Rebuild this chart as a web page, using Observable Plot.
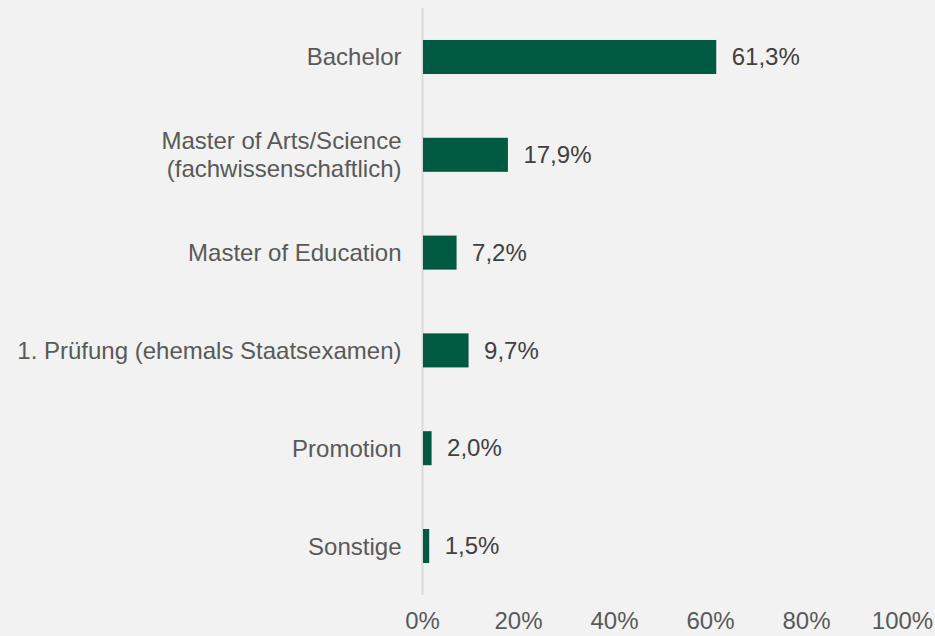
<!DOCTYPE html>
<html>
<head>
<meta charset="utf-8">
<script src="https://cdn.jsdelivr.net/npm/d3@7"></script>
<script src="https://cdn.jsdelivr.net/npm/@observablehq/plot@0.6"></script>
<style>
  html, body { margin: 0; padding: 0; background: #f2f2f2; }
</style>
</head>
<body>
<div id="chart"></div>
<script>
const categories = [
  "Bachelor",
  "Master of Arts/Science\n(fachwissenschaftlich)",
  "Master of Education",
  "1. Prüfung (ehemals Staatsexamen)",
  "Promotion",
  "Sonstige"
];
const values = [61.3, 17.9, 7.2, 9.7, 2.0, 1.5];
const xTicks = [0, 20, 40, 60, 80, 100];

const data = categories.map((c, i) => ({category: c, value: values[i]}));
const fmt = v => v.toFixed(1).replace(".", ",") + "%";

const chart = Plot.plot({
  width: 935,
  height: 636,
  marginLeft: 422,
  marginRight: 33,
  marginTop: 8,
  marginBottom: 41,
  style: {background: "#f2f2f2", fontFamily: "'Liberation Sans', Arial, sans-serif", fontSize: "24px"},
  x: {domain: [0, 100], ticks: xTicks, tickFormat: d => d + "%"},
  y: {domain: categories, paddingInner: 0.652, paddingOuter: 0.327, round: false},
  marks: [
    Plot.ruleX([0], {stroke: "#d9d9d9", strokeWidth: 2}),
    Plot.barX(data, {x: "value", y: "category", fill: "#005a41", insetLeft: 1}),
    Plot.text(data, {x: "value", y: "category", text: d => fmt(d.value), textAnchor: "start", dx: 15, dy: 0, fill: "#404040", fontSize: 24}),
    Plot.axisX({ticks: xTicks, tickFormat: d => d + "%", tickSize: 0, tickPadding: 16, label: null, fill: "#595959", fontSize: 24}),
    Plot.axisY({tickSize: 0, tickPadding: 21, dy: -1, label: null, fill: "#595959", fontSize: 24, lineHeight: 1.17})
  ]
});
document.getElementById("chart").appendChild(chart);
</script>
</body>
</html>
